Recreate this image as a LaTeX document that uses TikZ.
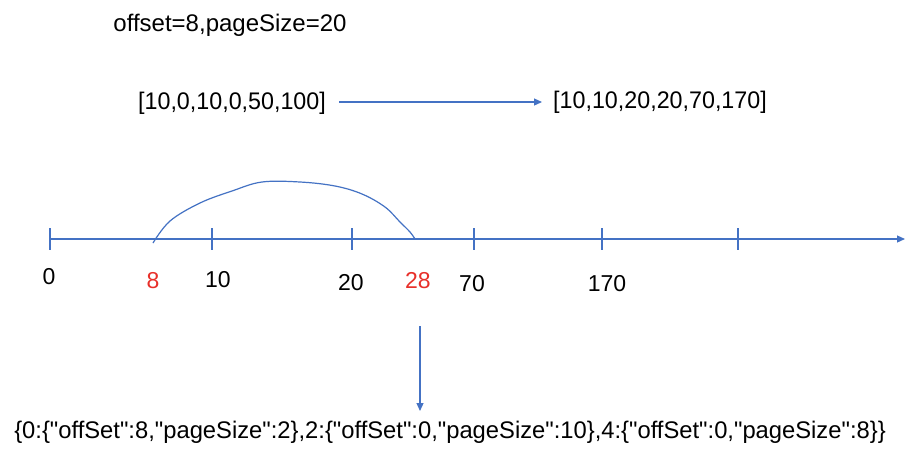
\documentclass[tikz,border=0pt]{standalone}
\usepackage{fontspec}
\setmainfont{Liberation Sans}
\newfontfamily\codefont{Liberation Sans}
\usetikzlibrary{arrows.meta}
\definecolor{axisblue}{HTML}{4472C4}
\definecolor{numred}{HTML}{E8302A}
\tikzset{
  axis/.style={draw=axisblue, line width=1.2pt},
  tick/.style={draw=axisblue, line width=1.2pt},
  conn/.style={draw=axisblue, line width=1.2pt, -{Triangle[length=8pt,width=7pt]}},
  num/.style={font=\fontsize{23}{26}\selectfont, inner sep=0pt, anchor=center},
  rednum/.style={num, text=numred},
  label/.style={font=\fontsize{24}{28}\selectfont, inner sep=0pt, anchor=center},
}
\begin{document}
\begin{tikzpicture}[x=1pt,y=-1pt]
\useasboundingbox[fill=white] (0,0) rectangle (922,461);
% title
\node[label] (title) at (230,25) {offset=8,pageSize=20};
% arrays
\node[label, xscale=0.97] (a1) at (232,103) {[10,0,10,0,50,100]};
\node[label, xscale=0.97] (a2) at (660,102) {[10,10,20,20,70,170]};
\path (a1.east) ++(13,-1) coordinate (c1);
\path (a2.west) ++(-11,0) coordinate (c2);
\draw[conn] (c1) -- (c2);
% axis
\coordinate (ax0) at (50,239);
\coordinate (axend) at (905,239);
\draw[axis, -{Triangle[length=8pt,width=7pt]}] (ax0) -- (axend);
\foreach \x in {50,212,352,474,602,738}{
  \draw[tick] (\x,228) -- (\x,250);
}
% arc
\draw[draw=axisblue, line width=1.2pt] plot[smooth, tension=0.6] coordinates {
  (153,243) (170,221) (200,203) (232,191) (262,182) (300,182)
  (335,186) (362,194) (385,207) (400,222) (410,232) (415,239)};
% labels
\node[num] (n0) at (49,277) {0};
\node[rednum] (n8) at (153,281) {8};
\node[num] (n10) at (218,280) {10};
\node[num] (n20) at (351,283) {20};
\node[rednum] (n28) at (418,281) {28};
\node[num] (n70) at (472,284) {70};
\node[num] (n170) at (607,284) {170};
% down arrow
\coordinate (dtop) at (420,326);
\coordinate (dbot) at (420,411);
\draw[conn] (dtop) -- (dbot);
\node[label, xscale=0.99] (res) at (450,432) {\codefont\{0:\{"offSet":8,"pageSize":2\},2:\{"offSet":0,"pageSize":10\},4:\{"offSet":0,"pageSize":8\}\}};
\end{tikzpicture}
\end{document}
